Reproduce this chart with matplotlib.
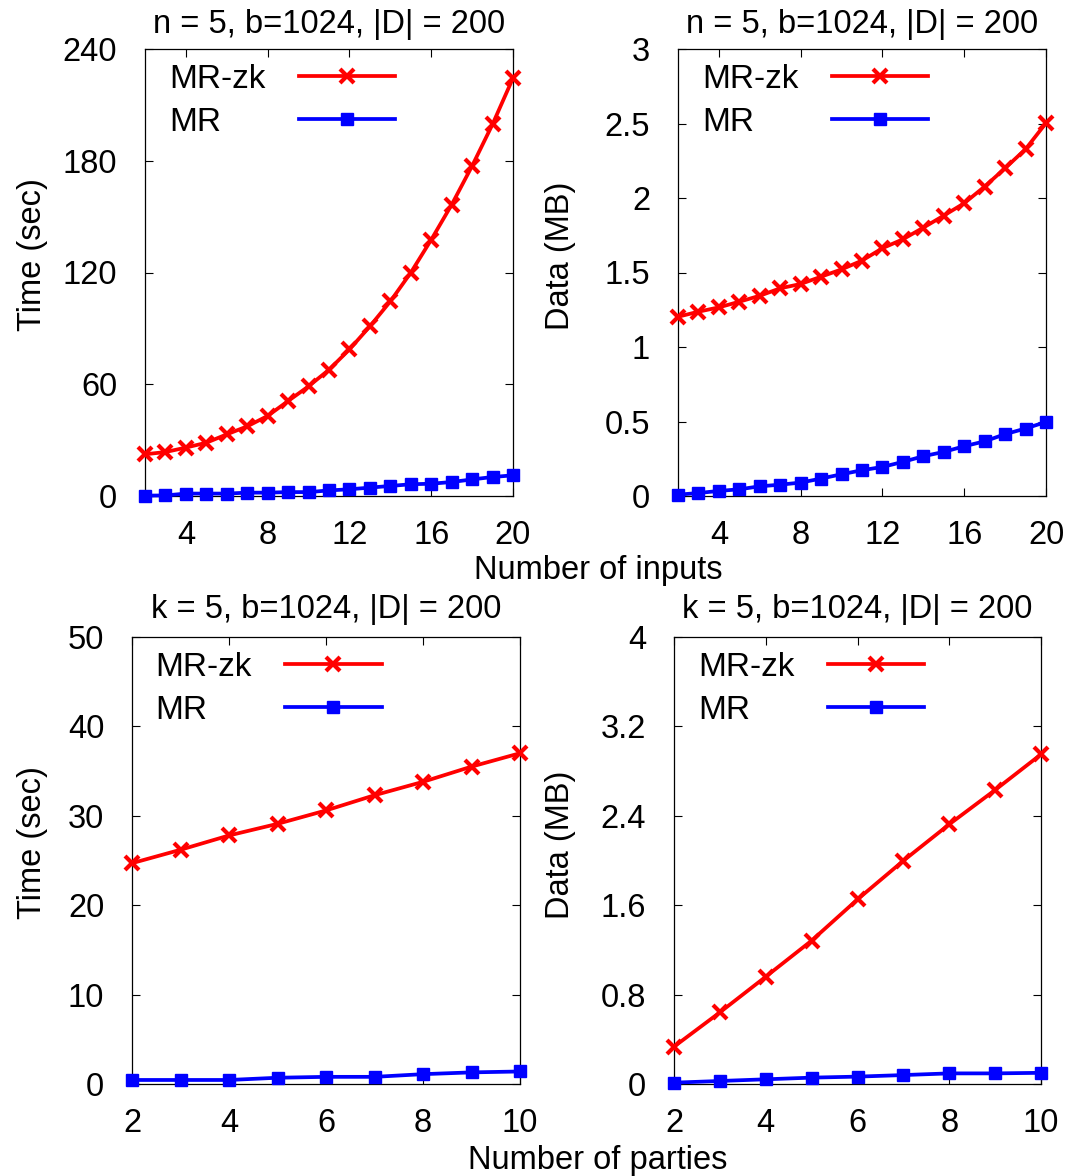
import matplotlib
matplotlib.use("Agg")
import matplotlib.pyplot as plt
from matplotlib.ticker import FormatStrFormatter

plt.rcParams["font.family"] = ["Liberation Sans", "DejaVu Sans"]

# number of inputs (top row), number of parties (bottom row)
inputs = list(range(2, 21))
parties = list(range(2, 11))

time_zk_inputs = [22.4, 23.6, 26.0, 28.6, 33.1, 37.4, 43.0, 51.0, 58.9, 67.8,
                  78.7, 91.1, 104.5, 119.9, 137.6, 156.4, 177.2, 199.6, 224.4]
time_mr_inputs = [0.2, 0.3, 1.3, 1.3, 1.3, 1.8, 1.8, 2.1, 2.1, 3.0,
                  3.6, 4.5, 5.4, 6.3, 6.6, 7.5, 8.9, 10.2, 11.1]
data_zk_inputs = [1.203, 1.237, 1.266, 1.304, 1.344, 1.394, 1.423, 1.472, 1.521, 1.580,
                  1.663, 1.723, 1.801, 1.882, 1.965, 2.077, 2.200, 2.328, 2.503]
data_mr_inputs = [0.009, 0.020, 0.034, 0.045, 0.065, 0.076, 0.090, 0.117, 0.146, 0.173,
                  0.195, 0.229, 0.267, 0.296, 0.334, 0.367, 0.415, 0.453, 0.497]

time_zk_parties = [24.7, 26.2, 27.8, 29.1, 30.6, 32.3, 33.8, 35.5, 37.0]
time_mr_parties = [0.45, 0.45, 0.45, 0.7, 0.8, 0.8, 1.1, 1.3, 1.4]
data_zk_parties = [0.334, 0.641, 0.960, 1.283, 1.652, 1.998, 2.324, 2.631, 2.950]
data_mr_parties = [0.012, 0.027, 0.042, 0.057, 0.066, 0.080, 0.095, 0.095, 0.100]

title_top = "n = 5, b=1024, |D| = 200"
title_bottom = "k = 5, b=1024, |D| = 200"

W, H = 1071, 1176
fig = plt.figure(figsize=(W / 100, H / 100), dpi=100)
renderer = fig.canvas.get_renderer()


def px_axes(l, t, r, b):
    return fig.add_axes([l / W, 1 - b / H, (r - l) / W, (b - t) / H])


def left_align_legend(leg):
    # gnuplot style key: labels left-justified, samples lined up on the right
    col = leg._legend_handle_box.get_children()[0]
    col.align = "left"
    items = col.get_children()
    widths = [it.get_children()[0].get_bbox(renderer).width for it in items]
    wmax = max(widths)
    for it, w in zip(items, widths):
        it.sep += (wmax - w) * 72 / fig.dpi


def panel(ax, x, zk, mr, xlim, xticks, ylim, yticks, title, tpad, leg_x):
    ax.plot(x, zk, color="#ff0000", lw=2.7, marker="x", ms=9.5, mew=3,
            label="MR-zk", clip_on=False, zorder=3)
    ax.plot(x, mr, color="#0000ff", lw=2.7, marker="s", ms=8.5, mew=1,
            label="MR", clip_on=False, zorder=3)
    ax.set_xlim(*xlim)
    ax.set_ylim(*ylim)
    ax.set_xticks(xticks)
    ax.set_yticks(yticks)
    ax.yaxis.set_major_formatter(FormatStrFormatter("%g"))
    ax.tick_params(direction="in", top=True, right=True, length=5.5, width=0.8,
                   labelsize=23.5)
    ax.tick_params(axis="y", pad=20)
    ax.tick_params(axis="x", pad=17)
    for s in ax.spines.values():
        s.set_linewidth(0.9)
    ax.set_title(title, fontsize=23.5, pad=tpad)
    leg = ax.legend(loc="upper left", bbox_to_anchor=(leg_x, 0.967), frameon=False,
                    markerfirst=False, fontsize=24, handlelength=2.9,
                    handletextpad=1.0, labelspacing=0.36, borderpad=0,
                    borderaxespad=0)
    left_align_legend(leg)


ax1 = px_axes(145, 49, 513, 496)
panel(ax1, inputs, time_zk_inputs, time_mr_inputs, (2, 20), [4, 8, 12, 16, 20],
      (0, 240), [0, 60, 120, 180, 240], title_top, 11.5, 0.065)

ax2 = px_axes(678, 49, 1046, 496)
panel(ax2, inputs, data_zk_inputs, data_mr_inputs, (2, 20), [4, 8, 12, 16, 20],
      (0, 3), [0, 0.5, 1, 1.5, 2, 2.5, 3], title_top, 11.5, 0.065)

ax3 = px_axes(132, 637, 520, 1084)
panel(ax3, parties, time_zk_parties, time_mr_parties, (2, 10), [2, 4, 6, 8, 10],
      (0, 50), [0, 10, 20, 30, 40, 50], title_bottom, 13.5, 0.06)

ax4 = px_axes(674, 637, 1041, 1084)
panel(ax4, parties, data_zk_parties, data_mr_parties, (2, 10), [2, 4, 6, 8, 10],
      (0, 4), [0, 0.8, 1.6, 2.4, 3.2, 4], title_bottom, 13.5, 0.065)

fig.text(33 / W, 1 - 255 / H, "Time (sec)", rotation=90, ha="center", va="center", fontsize=23.5)
fig.text(561 / W, 1 - 256 / H, "Data (MB)", rotation=90, ha="center", va="center", fontsize=23.5)
fig.text(33 / W, 1 - 843 / H, "Time (sec)", rotation=90, ha="center", va="center", fontsize=23.5)
fig.text(561 / W, 1 - 845 / H, "Data (MB)", rotation=90, ha="center", va="center", fontsize=23.5)
fig.text(598 / W, 1 - 571 / H, "Number of inputs", ha="center", va="center", fontsize=23.5)
fig.text(598 / W, 1 - 1160 / H, "Number of parties", ha="center", va="center", fontsize=23.5)

fig.savefig("out.png", dpi=100)
